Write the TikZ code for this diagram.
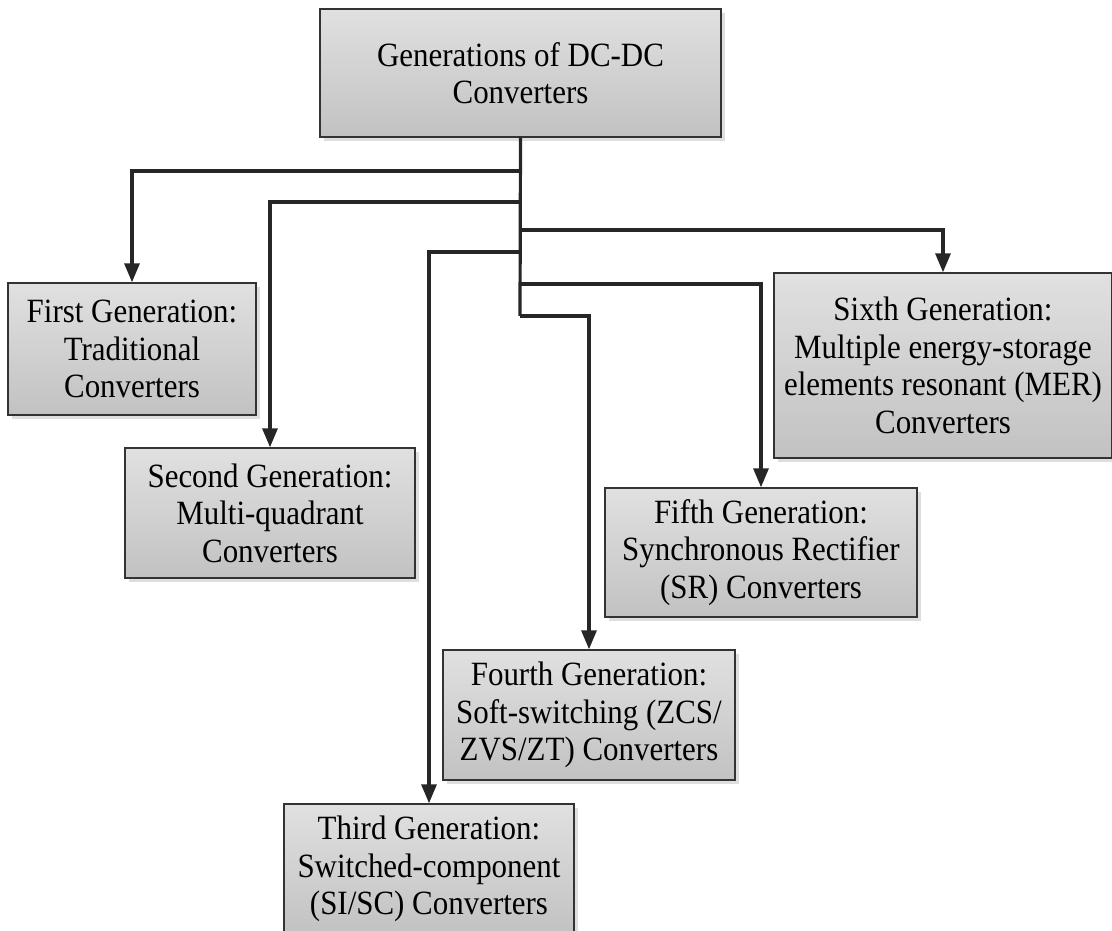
\documentclass[tikz,border=0pt]{standalone}
\usepackage{fontspec}
\setmainfont{Liberation Serif}[FakeStretch=0.91]
\usetikzlibrary{arrows.meta,shadows}

\tikzset{
	gen/.style={draw=black!80, line width=1.4pt, top color=black!12, bottom color=black!24,
		drop shadow={shadow xshift=4pt, shadow yshift=-4pt, fill=black!13, opacity=1},
		align=center, inner sep=0pt, font=\fontsize{34}{37.5}\selectfont},
	wire/.style={line width=3.2pt, draw=black!85},
	feed/.style={wire, -{Triangle[length=19pt,width=15pt]}}
}

\begin{document}
\begin{tikzpicture}[x=1pt, y=-1pt]
		\useasboundingbox (0,0) rectangle (1112,931);

		\node[gen, minimum width=401, minimum height=128] (root) at (520.5,73) {Generations of DC-DC\\Converters};

		\node[gen, minimum width=248, minimum height=132] (first)  at (132,349)   {First Generation:\\Traditional\\Converters};
		\node[gen, minimum width=290, minimum height=130] (second) at (270,513)   {Second Generation:\\Multi-quadrant\\Converters};
		\node[gen, minimum width=290, minimum height=130] (third)  at (429,869)   {Third Generation:\\Switched-component\\(SI/SC) Converters};
		\node[gen, minimum width=292, minimum height=130] (fourth) at (589,715)   {Fourth Generation:\\Soft-switching (ZCS/\\ZVS/ZT) Converters};
		\node[gen, minimum width=312, minimum height=129] (fifth)  at (761,552.5) {Fifth Generation:\\Synchronous Rectifier\\(SR) Converters};
		\node[gen, minimum width=338, minimum height=185] (sixth)  at (943,365.5) {Sixth Generation:\\Multiple energy-storage\\elements resonant (MER)\\Converters};

		% branch points on the trunk
		\coordinate (j1) at (520,171);
		\coordinate (j2) at (520,202);
		\coordinate (j3) at (520,230);
		\coordinate (j4) at (520,252);
		\coordinate (j5) at (520,284);
		\coordinate (j6) at (520,316);

		\draw [wire](root.south) -- (j6);
		\draw [feed](j1) -| (first.north);
		\draw [feed](j2) -| (second.north);
		\draw [feed](j3) -| (sixth.north);
		\draw [feed](j4) -| (third.north);
		\draw [feed](j5) -| (fifth.north);
		\draw [feed](j6) -| (fourth.north);
	\end{tikzpicture}
\end{document}
